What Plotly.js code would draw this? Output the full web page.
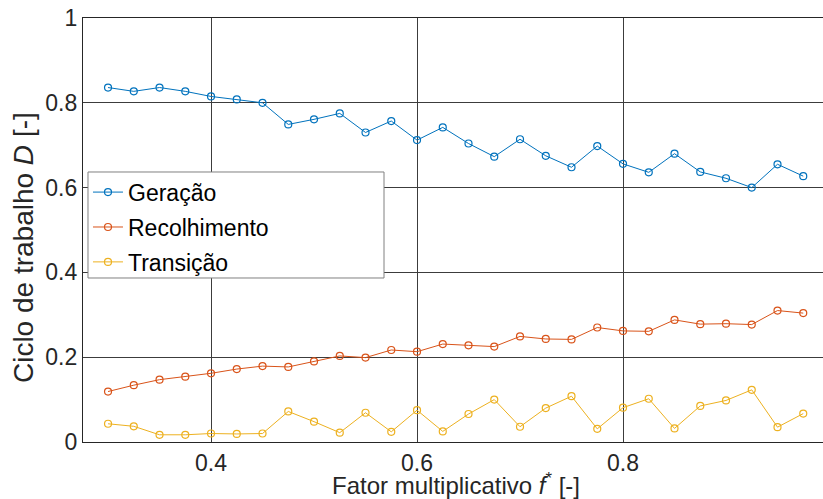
<!DOCTYPE html>
<html>
<head>
<meta charset="utf-8">
<script src="https://cdn.plot.ly/plotly-3.0.1.min.js"></script>
<style>
html,body{margin:0;padding:0;overflow:hidden;background:#fff;width:823px;height:499px;}
#chart{width:850px;height:499px;}
</style>
</head>
<body>
<div id="chart"></div>
<script>
const fator = [0.3,0.325,0.35,0.375,0.4,0.425,0.45,0.475,0.5,0.525,0.55,0.575,0.6,0.625,0.65,0.675,0.7,0.725,0.75,0.775,0.8,0.825,0.85,0.875,0.9,0.925,0.95,0.975];
const geracao = [0.836,0.827,0.836,0.827,0.815,0.808,0.800,0.749,0.761,0.775,0.730,0.757,0.712,0.742,0.704,0.673,0.714,0.675,0.648,0.698,0.656,0.636,0.680,0.637,0.622,0.600,0.655,0.627];
const recolhimento = [0.119,0.134,0.147,0.154,0.162,0.172,0.179,0.177,0.190,0.203,0.199,0.217,0.213,0.231,0.228,0.225,0.249,0.243,0.242,0.270,0.262,0.261,0.288,0.278,0.279,0.277,0.310,0.304];
const transicao = [0.043,0.037,0.017,0.017,0.020,0.019,0.020,0.072,0.048,0.022,0.069,0.024,0.075,0.025,0.066,0.100,0.036,0.080,0.108,0.031,0.081,0.102,0.032,0.085,0.098,0.123,0.035,0.067];
const seriesNames = ['Geração','Recolhimento','Transição'];
const seriesColors = ['#0072BD','#D95319','#EDB120'];
const yTickVals = [0,0.2,0.4,0.6,0.8,1];
const yTickText = ['0','0.2','0.4','0.6','0.8','1'];
const xTickVals = [0.4,0.6,0.8,1];
const xTickText = ['0.4','0.6','0.8','1'];
const xTitle = 'Fator multiplicativo <i>f</i><sup>*</sup> [-]';
const yTitle = 'Ciclo de trabalho <i>D</i> [-]';

const allY = [geracao, recolhimento, transicao];
const traces = allY.map((ys,i)=>({
  x: fator, y: ys, name: seriesNames[i], type:'scatter', mode:'lines+markers',
  legendgroup: 'g'+i,
  line:{color:seriesColors[i], width:1},
  marker:{symbol:'circle-open', size:7, color:seriesColors[i], line:{width:1.2, color:seriesColors[i]}}
}));

const font = '"Liberation Sans", Arial, sans-serif';
const layout = {
  width: 850, height: 499,
  margin:{l:83, r:21, t:18, b:57},
  paper_bgcolor:'#fff', plot_bgcolor:'#fff',
  font:{family:font, color:'#262626'},
  showlegend:true,
  legend:{x:0.0067, y:0.640, xanchor:'left', yanchor:'top', bgcolor:'rgba(0,0,0,0)',
    borderwidth:0, font:{size:23, color:'#000'},
    tracegroupgap:2, traceorder:'grouped'},
  shapes:[{type:'rect', xref:'paper', yref:'paper', x0:0.0067, x1:0.4035, y0:0.3868, y1:0.6368,
    fillcolor:'#fff', line:{color:'#808080', width:1}, layer:'above'}],
  xaxis:{range:[0.2757,1], tickvals:xTickVals, ticktext:xTickText, showgrid:true,
    gridcolor:'#3c3c3c', gridwidth:1, zeroline:false, showline:true, linecolor:'#262626', linewidth:1.2,
    mirror:true, ticks:'', tickfont:{size:23}, fixedrange:true,
    title:{text:xTitle, font:{size:24}, standoff:8}},
  yaxis:{range:[0,1], tickvals:yTickVals, ticktext:yTickText, showgrid:true,
    gridcolor:'#3c3c3c', gridwidth:1, zeroline:false, showline:true, linecolor:'#262626', linewidth:1.2,
    mirror:true, ticks:'', tickfont:{size:23}, fixedrange:true},
  annotations:[{text:yTitle, xref:'paper', yref:'paper', x:-0.0804, y:0.4575,
    xanchor:'center', yanchor:'middle', textangle:-90, showarrow:false,
    font:{size:28, color:'#262626', family:font}}]
};
Plotly.newPlot('chart', traces, layout, {displayModeBar:false, staticPlot:true});
</script>
</body>
</html>
